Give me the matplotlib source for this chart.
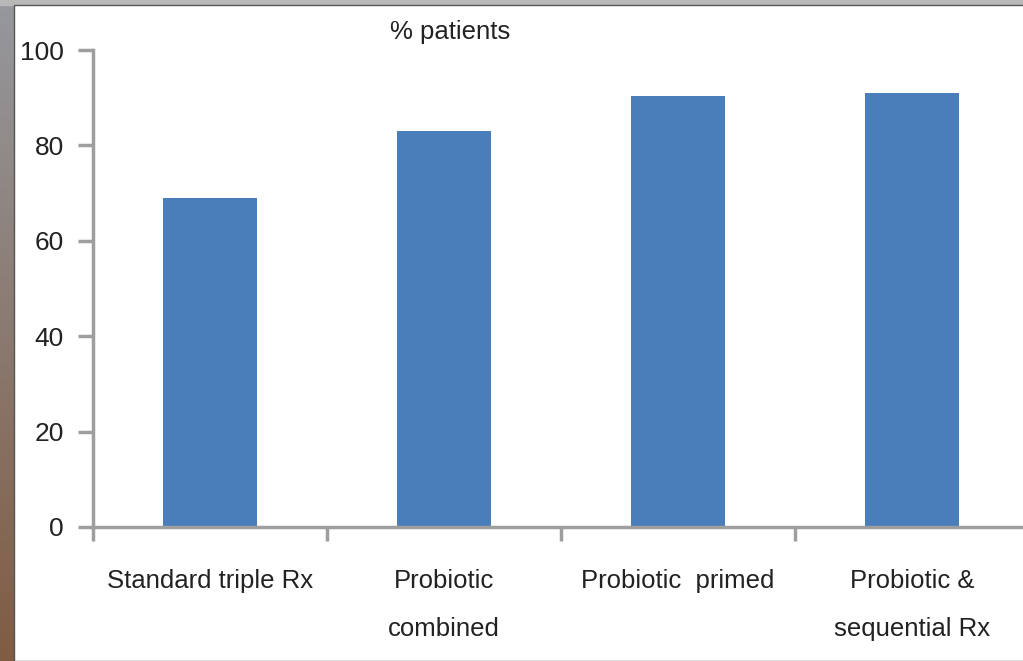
import numpy as np
import matplotlib
matplotlib.use("Agg")
import matplotlib.pyplot as plt
from matplotlib.patches import Rectangle

plt.rcParams['font.family'] = ['Liberation Sans', 'DejaVu Sans']

# ========== data ==========
categories = ["Standard triple Rx", "Probiotic\ncombined", "Probiotic  primed", "Probiotic &\nsequential Rx"]
values = [69, 83, 90.4, 91]
y_ticks = [0, 20, 40, 60, 80, 100]
# ==========================

bar_color = "#4a7ebb"
axis_color = "#9e9e9e"
text_color = "#222222"

fig = plt.figure(figsize=(10.23, 6.61), dpi=100)

# screenshot-like frame: gray/brown strip on the left, gray strip on top
bg = fig.add_axes([0, 0, 1, 1], zorder=-10)
grad = np.linspace(0, 1, 256).reshape(-1, 1)
top_c = np.array([150, 152, 158]) / 255
bot_c = np.array([128, 92, 66]) / 255
img = top_c[None, None, :] * (1 - grad[:, :, None]) + bot_c[None, None, :] * grad[:, :, None]
bg.imshow(img, aspect='auto', extent=[0, 1, 0, 1], origin='upper')
bg.add_patch(Rectangle((0, 1 - 5 / 661), 1, 5 / 661, color="#b8b8b8"))
bg.add_patch(Rectangle((14 / 1023, 0), 1, 1 - 5 / 661, facecolor="white",
                       edgecolor="#555555", linewidth=1))
bg.set_xlim(0, 1)
bg.set_ylim(0, 1)
bg.axis('off')

ax = fig.add_axes([93 / 1023, 134 / 661, 936 / 1023, 477 / 661])
ax.patch.set_alpha(0)
x = np.arange(len(categories))
ax.bar(x, values, width=0.4, color=bar_color, zorder=2)

ax.set_xlim(-0.5, len(categories) - 0.5)
ax.set_ylim(0, 100)
ax.spines['top'].set_visible(False)
ax.spines['right'].set_visible(False)
for s in ['left', 'bottom']:
    ax.spines[s].set_color(axis_color)
    ax.spines[s].set_linewidth(2.5)

ax.set_yticks(y_ticks)
ax.tick_params(axis='y', direction='out', length=11, width=2.5, color=axis_color,
               labelsize=19, labelcolor=text_color, pad=10)

ax.set_xticks(np.arange(len(categories) + 1) - 0.5)
ax.set_xticklabels([])
ax.tick_params(axis='x', which='major', direction='out', length=10, width=2.5, color=axis_color)
ax.set_xticks(x, minor=True)
ax.set_xticklabels(categories, minor=True, fontsize=18.5, color=text_color, linespacing=2.3)
ax.tick_params(axis='x', which='minor', length=0, pad=30)

fig.text(450 / 1023, 1 - 32 / 661, "% patients", ha='center', va='center',
         fontsize=18.5, color=text_color)

fig.savefig("out.png", dpi=100)
